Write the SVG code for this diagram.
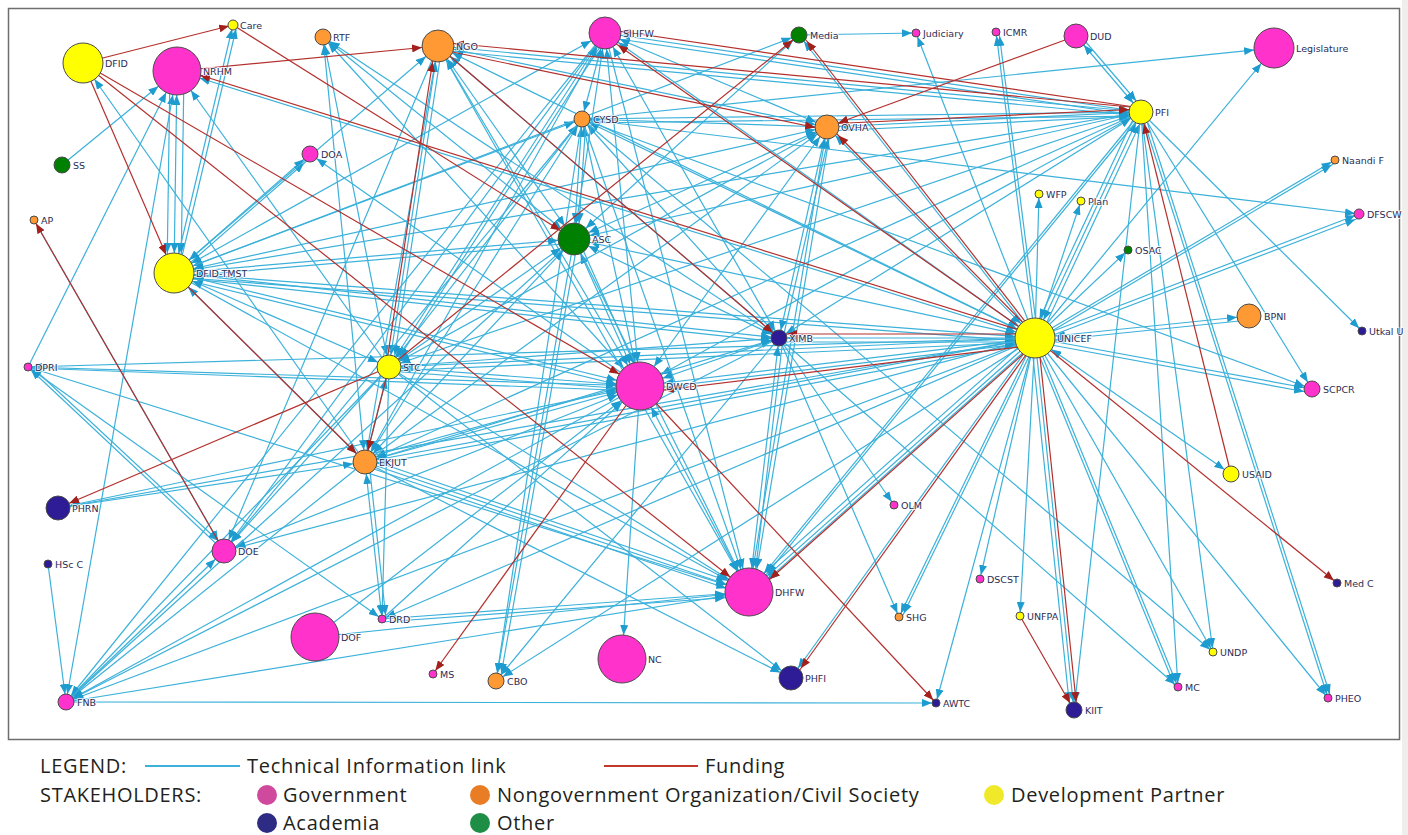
<svg xmlns="http://www.w3.org/2000/svg" width="1408" height="835" viewBox="0 0 1408 835">
<style>
.t line{stroke:#3cb1da;stroke-width:1.2;fill:none}
.f line{stroke:#b3302d;stroke-width:1.2;fill:none}
.ab{fill:#1e9ccf}
.ar{fill:#a3201c}
.n circle{stroke:#4a4a4a;stroke-width:1}
.n text{font-family:"DejaVu Sans",sans-serif;font-size:9.5px;fill:#2c2c54;stroke:#ffffff;stroke-width:2;stroke-opacity:0.8;paint-order:stroke;stroke-linejoin:round}
.Y{fill:#ffff00}.P{fill:#ff33cc}.O{fill:#ff9933}.G{fill:#008000}.N{fill:#2e1b96}
.lg{font-family:"Open Sans",sans-serif;font-size:20px;letter-spacing:0.7px;fill:#231f20}
</style>
<defs>
<marker id="b4" viewBox="0 0 10 8" markerWidth="10" markerHeight="8" refX="14" refY="4" orient="auto-start-reverse" markerUnits="userSpaceOnUse"><path d="M0,0L10,4L0,8z" class="ab"/></marker>
<marker id="b8" viewBox="0 0 10 8" markerWidth="10" markerHeight="8" refX="18" refY="4" orient="auto-start-reverse" markerUnits="userSpaceOnUse"><path d="M0,0L10,4L0,8z" class="ab"/></marker>
<marker id="b12" viewBox="0 0 10 8" markerWidth="10" markerHeight="8" refX="22" refY="4" orient="auto-start-reverse" markerUnits="userSpaceOnUse"><path d="M0,0L10,4L0,8z" class="ab"/></marker>
<marker id="b16" viewBox="0 0 10 8" markerWidth="10" markerHeight="8" refX="26" refY="4" orient="auto-start-reverse" markerUnits="userSpaceOnUse"><path d="M0,0L10,4L0,8z" class="ab"/></marker>
<marker id="b20" viewBox="0 0 10 8" markerWidth="10" markerHeight="8" refX="30" refY="4" orient="auto-start-reverse" markerUnits="userSpaceOnUse"><path d="M0,0L10,4L0,8z" class="ab"/></marker>
<marker id="b24" viewBox="0 0 10 8" markerWidth="10" markerHeight="8" refX="34" refY="4" orient="auto-start-reverse" markerUnits="userSpaceOnUse"><path d="M0,0L10,4L0,8z" class="ab"/></marker>
<marker id="r4" viewBox="0 0 10 8" markerWidth="10" markerHeight="8" refX="14" refY="4" orient="auto" markerUnits="userSpaceOnUse"><path d="M0,0L10,4L0,8z" class="ar"/></marker>
<marker id="r8" viewBox="0 0 10 8" markerWidth="10" markerHeight="8" refX="18" refY="4" orient="auto" markerUnits="userSpaceOnUse"><path d="M0,0L10,4L0,8z" class="ar"/></marker>
<marker id="r12" viewBox="0 0 10 8" markerWidth="10" markerHeight="8" refX="22" refY="4" orient="auto" markerUnits="userSpaceOnUse"><path d="M0,0L10,4L0,8z" class="ar"/></marker>
<marker id="r16" viewBox="0 0 10 8" markerWidth="10" markerHeight="8" refX="26" refY="4" orient="auto" markerUnits="userSpaceOnUse"><path d="M0,0L10,4L0,8z" class="ar"/></marker>
<marker id="r20" viewBox="0 0 10 8" markerWidth="10" markerHeight="8" refX="30" refY="4" orient="auto" markerUnits="userSpaceOnUse"><path d="M0,0L10,4L0,8z" class="ar"/></marker>
<marker id="r24" viewBox="0 0 10 8" markerWidth="10" markerHeight="8" refX="34" refY="4" orient="auto" markerUnits="userSpaceOnUse"><path d="M0,0L10,4L0,8z" class="ar"/></marker>
</defs>
<rect x="0" y="0" width="1408" height="835" fill="#ffffff"/>
<rect x="1402" y="0" width="6" height="835" fill="#efeeea"/>
<rect x="8.5" y="8.5" width="1391" height="731" fill="#ffffff" stroke="#6e6e6e" stroke-width="1.5"/>
<g id="connectors">
<g class="t">
<line x1="1035" y1="338" x2="1274" y2="48" marker-end="url(#b20)"/>
<line x1="1035" y1="338" x2="916" y2="33" marker-end="url(#b4)"/>
<line x1="1035" y1="338" x2="996" y2="32" marker-end="url(#b4)"/>
<line x1="1038" y1="338" x2="999" y2="32" marker-end="url(#b4)"/>
<line x1="1035" y1="338" x2="1039" y2="194" marker-end="url(#b4)"/>
<line x1="1035" y1="338" x2="1081" y2="201" marker-end="url(#b4)"/>
<line x1="1035" y1="338" x2="1128" y2="250" marker-end="url(#b4)"/>
<line x1="1035" y1="338" x2="1141" y2="112" marker-end="url(#b12)" marker-start="url(#b20)"/>
<line x1="1039" y1="339" x2="1145" y2="113" marker-end="url(#b12)"/>
<line x1="1137" y1="111" x2="1031" y2="337" marker-end="url(#b20)"/>
<line x1="1035" y1="338" x2="1335" y2="160" marker-end="url(#b4)"/>
<line x1="1035" y1="341" x2="1335" y2="163" marker-end="url(#b4)"/>
<line x1="1035" y1="338" x2="1359" y2="214" marker-end="url(#b4)"/>
<line x1="1035" y1="342" x2="1359" y2="218" marker-end="url(#b4)"/>
<line x1="1035" y1="338" x2="1249" y2="316" marker-end="url(#b12)" marker-start="url(#b20)"/>
<line x1="1249" y1="320" x2="1035" y2="342" marker-end="url(#b20)"/>
<line x1="1035" y1="338" x2="1312" y2="389" marker-end="url(#b8)"/>
<line x1="1035" y1="342" x2="1312" y2="393" marker-end="url(#b8)"/>
<line x1="1035" y1="338" x2="1231" y2="474" marker-end="url(#b8)" marker-start="url(#b20)"/>
<line x1="1035" y1="338" x2="1074" y2="710" marker-end="url(#b8)"/>
<line x1="1031" y1="338" x2="1070" y2="710" marker-end="url(#b8)"/>
<line x1="1035" y1="338" x2="1178" y2="687" marker-end="url(#b4)"/>
<line x1="1032" y1="338" x2="1175" y2="687" marker-end="url(#b4)"/>
<line x1="1035" y1="338" x2="1328" y2="698" marker-end="url(#b4)"/>
<line x1="1035" y1="338" x2="1213" y2="652" marker-end="url(#b4)"/>
<line x1="1035" y1="338" x2="1020" y2="616" marker-end="url(#b4)"/>
<line x1="1035" y1="338" x2="980" y2="579" marker-end="url(#b4)"/>
<line x1="1035" y1="338" x2="899" y2="617" marker-end="url(#b4)"/>
<line x1="1038" y1="338" x2="902" y2="617" marker-end="url(#b4)"/>
<line x1="1035" y1="338" x2="936" y2="703" marker-end="url(#b4)"/>
<line x1="1035" y1="338" x2="791" y2="678" marker-end="url(#b12)"/>
<line x1="1035" y1="338" x2="749" y2="592" marker-end="url(#b24)"/>
<line x1="1035" y1="342" x2="749" y2="596" marker-end="url(#b24)"/>
<line x1="1032" y1="335" x2="746" y2="589" marker-end="url(#b24)"/>
<line x1="1035" y1="338" x2="496" y2="681" marker-end="url(#b8)"/>
<line x1="1035" y1="338" x2="224" y2="551" marker-end="url(#b12)"/>
<line x1="1035" y1="338" x2="66" y2="702" marker-end="url(#b8)"/>
<line x1="1035" y1="338" x2="365" y2="462" marker-end="url(#b12)"/>
<line x1="1035" y1="342" x2="365" y2="466" marker-end="url(#b12)"/>
<line x1="1035" y1="338" x2="382" y2="619" marker-end="url(#b4)"/>
<line x1="1035" y1="338" x2="640" y2="386" marker-end="url(#b24)" marker-start="url(#b20)"/>
<line x1="640" y1="390" x2="1035" y2="342" marker-end="url(#b20)"/>
<line x1="1035" y1="338" x2="779" y2="338" marker-end="url(#b8)" marker-start="url(#b20)"/>
<line x1="779" y1="342" x2="1035" y2="342" marker-end="url(#b20)"/>
<line x1="1035" y1="338" x2="389" y2="367" marker-end="url(#b12)" marker-start="url(#b20)"/>
<line x1="389" y1="371" x2="1035" y2="342" marker-end="url(#b20)"/>
<line x1="1035" y1="338" x2="174" y2="273" marker-end="url(#b20)" marker-start="url(#b20)"/>
<line x1="174" y1="277" x2="1035" y2="342" marker-end="url(#b20)"/>
<line x1="1035" y1="338" x2="574" y2="239" marker-end="url(#b16)" marker-start="url(#b20)"/>
<line x1="1035" y1="338" x2="582" y2="119" marker-end="url(#b8)" marker-start="url(#b20)"/>
<line x1="1035" y1="338" x2="827" y2="127" marker-end="url(#b12)" marker-start="url(#b20)"/>
<line x1="1035" y1="338" x2="605" y2="33" marker-end="url(#b16)" marker-start="url(#b20)"/>
<line x1="1035" y1="338" x2="438" y2="46" marker-end="url(#b16)" marker-start="url(#b20)"/>
<line x1="1035" y1="338" x2="799" y2="35" marker-end="url(#b8)"/>
<line x1="1035" y1="338" x2="177" y2="71" marker-end="url(#b24)" marker-start="url(#b20)"/>
<line x1="1035" y1="338" x2="28" y2="367" marker-end="url(#b4)"/>
<line x1="1035" y1="338" x2="58" y2="508" marker-end="url(#b12)"/>
<line x1="1141" y1="112" x2="1076" y2="36" marker-end="url(#b12)" marker-start="url(#b12)"/>
<line x1="1079" y1="34" x2="1144" y2="110" marker-end="url(#b12)"/>
<line x1="1141" y1="112" x2="438" y2="46" marker-end="url(#b16)" marker-start="url(#b12)"/>
<line x1="438" y1="50" x2="1141" y2="116" marker-end="url(#b12)"/>
<line x1="1141" y1="112" x2="605" y2="33" marker-end="url(#b16)" marker-start="url(#b12)"/>
<line x1="605" y1="37" x2="1141" y2="116" marker-end="url(#b12)"/>
<line x1="1141" y1="112" x2="582" y2="119" marker-end="url(#b8)" marker-start="url(#b12)"/>
<line x1="582" y1="123" x2="1141" y2="116" marker-end="url(#b12)"/>
<line x1="1141" y1="112" x2="827" y2="127" marker-end="url(#b12)" marker-start="url(#b12)"/>
<line x1="827" y1="131" x2="1141" y2="116" marker-end="url(#b12)"/>
<line x1="1141" y1="112" x2="574" y2="239" marker-end="url(#b16)" marker-start="url(#b12)"/>
<line x1="1141" y1="112" x2="174" y2="273" marker-end="url(#b20)" marker-start="url(#b12)"/>
<line x1="1141" y1="112" x2="389" y2="367" marker-end="url(#b12)" marker-start="url(#b12)"/>
<line x1="1141" y1="112" x2="779" y2="338" marker-end="url(#b8)" marker-start="url(#b12)"/>
<line x1="1141" y1="112" x2="640" y2="386" marker-end="url(#b24)" marker-start="url(#b12)"/>
<line x1="1141" y1="112" x2="749" y2="592" marker-end="url(#b24)"/>
<line x1="1144" y1="112" x2="752" y2="592" marker-end="url(#b24)"/>
<line x1="1141" y1="112" x2="365" y2="462" marker-end="url(#b12)"/>
<line x1="1141" y1="112" x2="1074" y2="710" marker-end="url(#b8)"/>
<line x1="1141" y1="112" x2="1178" y2="687" marker-end="url(#b4)"/>
<line x1="1141" y1="112" x2="1328" y2="698" marker-end="url(#b4)"/>
<line x1="1144" y1="112" x2="1331" y2="698" marker-end="url(#b4)"/>
<line x1="1141" y1="112" x2="1213" y2="652" marker-end="url(#b4)"/>
<line x1="1141" y1="112" x2="1362" y2="331" marker-end="url(#b4)"/>
<line x1="1141" y1="112" x2="1312" y2="389" marker-end="url(#b8)"/>
<line x1="640" y1="386" x2="622" y2="659" marker-end="url(#b24)"/>
<line x1="640" y1="386" x2="749" y2="592" marker-end="url(#b24)" marker-start="url(#b24)"/>
<line x1="640" y1="386" x2="389" y2="367" marker-end="url(#b12)" marker-start="url(#b24)"/>
<line x1="389" y1="371" x2="640" y2="390" marker-end="url(#b24)"/>
<line x1="28" y1="367" x2="640" y2="386" marker-end="url(#b24)"/>
<line x1="30" y1="368" x2="640" y2="391" marker-end="url(#b24)"/>
<line x1="640" y1="386" x2="365" y2="462" marker-end="url(#b12)" marker-start="url(#b24)"/>
<line x1="365" y1="458" x2="640" y2="382" marker-end="url(#b24)"/>
<line x1="640" y1="386" x2="224" y2="551" marker-end="url(#b12)" marker-start="url(#b24)"/>
<line x1="640" y1="386" x2="66" y2="702" marker-end="url(#b8)"/>
<line x1="640" y1="386" x2="58" y2="508" marker-end="url(#b12)" marker-start="url(#b24)"/>
<line x1="640" y1="386" x2="574" y2="239" marker-end="url(#b16)" marker-start="url(#b24)"/>
<line x1="578" y1="239" x2="644" y2="386" marker-end="url(#b24)"/>
<line x1="640" y1="386" x2="582" y2="119" marker-end="url(#b8)" marker-start="url(#b24)"/>
<line x1="640" y1="386" x2="605" y2="33" marker-end="url(#b16)" marker-start="url(#b24)"/>
<line x1="640" y1="386" x2="827" y2="127" marker-end="url(#b12)" marker-start="url(#b24)"/>
<line x1="640" y1="386" x2="779" y2="338" marker-end="url(#b8)" marker-start="url(#b24)"/>
<line x1="640" y1="386" x2="174" y2="273" marker-end="url(#b20)" marker-start="url(#b24)"/>
<line x1="174" y1="277" x2="640" y2="390" marker-end="url(#b24)"/>
<line x1="640" y1="386" x2="438" y2="46" marker-end="url(#b16)" marker-start="url(#b24)"/>
<line x1="640" y1="386" x2="323" y2="37" marker-end="url(#b8)" marker-start="url(#b24)"/>
<line x1="640" y1="386" x2="310" y2="154" marker-end="url(#b8)"/>
<line x1="382" y1="619" x2="640" y2="386" marker-end="url(#b24)"/>
<line x1="315" y1="637" x2="640" y2="386" marker-end="url(#b24)"/>
<line x1="365" y1="462" x2="749" y2="592" marker-end="url(#b24)"/>
<line x1="365" y1="466" x2="749" y2="596" marker-end="url(#b24)"/>
<line x1="365" y1="458" x2="749" y2="588" marker-end="url(#b24)"/>
<line x1="389" y1="367" x2="749" y2="592" marker-end="url(#b24)"/>
<line x1="382" y1="619" x2="749" y2="592" marker-end="url(#b24)"/>
<line x1="382" y1="622" x2="749" y2="596" marker-end="url(#b24)"/>
<line x1="66" y1="702" x2="749" y2="592" marker-end="url(#b24)"/>
<line x1="315" y1="637" x2="749" y2="592" marker-end="url(#b24)"/>
<line x1="28" y1="367" x2="749" y2="592" marker-end="url(#b24)"/>
<line x1="779" y1="338" x2="749" y2="592" marker-end="url(#b24)" marker-start="url(#b8)"/>
<line x1="783" y1="338" x2="753" y2="592" marker-end="url(#b24)"/>
<line x1="582" y1="119" x2="749" y2="592" marker-end="url(#b24)"/>
<line x1="574" y1="239" x2="749" y2="592" marker-end="url(#b24)"/>
<line x1="605" y1="33" x2="749" y2="592" marker-end="url(#b24)"/>
<line x1="438" y1="46" x2="749" y2="592" marker-end="url(#b24)"/>
<line x1="174" y1="273" x2="749" y2="592" marker-end="url(#b24)"/>
<line x1="827" y1="127" x2="749" y2="592" marker-end="url(#b24)" marker-start="url(#b12)"/>
<line x1="831" y1="127" x2="753" y2="592" marker-end="url(#b24)"/>
<line x1="779" y1="338" x2="827" y2="127" marker-end="url(#b12)" marker-start="url(#b8)"/>
<line x1="783" y1="338" x2="831" y2="127" marker-end="url(#b12)"/>
<line x1="779" y1="338" x2="894" y2="505" marker-end="url(#b4)"/>
<line x1="779" y1="338" x2="899" y2="617" marker-end="url(#b4)"/>
<line x1="779" y1="338" x2="1178" y2="687" marker-end="url(#b4)"/>
<line x1="779" y1="338" x2="174" y2="273" marker-end="url(#b20)" marker-start="url(#b8)"/>
<line x1="174" y1="277" x2="779" y2="342" marker-end="url(#b8)"/>
<line x1="779" y1="338" x2="389" y2="367" marker-end="url(#b12)" marker-start="url(#b8)"/>
<line x1="779" y1="338" x2="582" y2="119" marker-end="url(#b8)" marker-start="url(#b8)"/>
<line x1="779" y1="338" x2="605" y2="33" marker-end="url(#b16)" marker-start="url(#b8)"/>
<line x1="779" y1="338" x2="365" y2="462" marker-end="url(#b12)" marker-start="url(#b8)"/>
<line x1="779" y1="338" x2="574" y2="239" marker-end="url(#b16)" marker-start="url(#b8)"/>
<line x1="779" y1="338" x2="438" y2="46" marker-end="url(#b16)" marker-start="url(#b8)"/>
<line x1="779" y1="338" x2="66" y2="702" marker-end="url(#b8)"/>
<line x1="779" y1="338" x2="496" y2="681" marker-end="url(#b8)"/>
<line x1="779" y1="338" x2="323" y2="37" marker-end="url(#b8)" marker-start="url(#b8)"/>
<line x1="389" y1="367" x2="438" y2="46" marker-end="url(#b16)" marker-start="url(#b12)"/>
<line x1="442" y1="46" x2="393" y2="367" marker-end="url(#b12)"/>
<line x1="389" y1="367" x2="323" y2="37" marker-end="url(#b8)" marker-start="url(#b12)"/>
<line x1="389" y1="367" x2="605" y2="33" marker-end="url(#b16)" marker-start="url(#b12)"/>
<line x1="609" y1="33" x2="393" y2="367" marker-end="url(#b12)"/>
<line x1="389" y1="367" x2="582" y2="119" marker-end="url(#b8)" marker-start="url(#b12)"/>
<line x1="389" y1="367" x2="574" y2="239" marker-end="url(#b16)" marker-start="url(#b12)"/>
<line x1="389" y1="367" x2="827" y2="127" marker-end="url(#b12)" marker-start="url(#b12)"/>
<line x1="389" y1="367" x2="365" y2="462" marker-end="url(#b12)" marker-start="url(#b12)"/>
<line x1="389" y1="367" x2="224" y2="551" marker-end="url(#b12)"/>
<line x1="389" y1="367" x2="66" y2="702" marker-end="url(#b8)"/>
<line x1="389" y1="367" x2="382" y2="619" marker-end="url(#b4)"/>
<line x1="389" y1="367" x2="174" y2="273" marker-end="url(#b20)" marker-start="url(#b12)"/>
<line x1="389" y1="367" x2="177" y2="71" marker-end="url(#b24)"/>
<line x1="389" y1="367" x2="791" y2="678" marker-end="url(#b12)"/>
<line x1="174" y1="273" x2="177" y2="71" marker-end="url(#b24)" marker-start="url(#b20)"/>
<line x1="184" y1="71" x2="181" y2="273" marker-end="url(#b20)"/>
<line x1="170" y1="71" x2="167" y2="273" marker-end="url(#b20)"/>
<line x1="174" y1="273" x2="233" y2="25" marker-end="url(#b4)" marker-start="url(#b20)"/>
<line x1="178" y1="273" x2="237" y2="25" marker-end="url(#b4)"/>
<line x1="174" y1="273" x2="310" y2="154" marker-end="url(#b8)"/>
<line x1="174" y1="277" x2="310" y2="158" marker-end="url(#b8)"/>
<line x1="174" y1="273" x2="574" y2="239" marker-end="url(#b16)" marker-start="url(#b20)"/>
<line x1="574" y1="243" x2="174" y2="277" marker-end="url(#b20)"/>
<line x1="174" y1="273" x2="582" y2="119" marker-end="url(#b8)" marker-start="url(#b20)"/>
<line x1="174" y1="273" x2="605" y2="33" marker-end="url(#b16)" marker-start="url(#b20)"/>
<line x1="174" y1="273" x2="827" y2="127" marker-end="url(#b12)" marker-start="url(#b20)"/>
<line x1="174" y1="273" x2="365" y2="462" marker-end="url(#b12)" marker-start="url(#b20)"/>
<line x1="174" y1="273" x2="799" y2="35" marker-end="url(#b8)"/>
<line x1="174" y1="273" x2="438" y2="46" marker-end="url(#b16)" marker-start="url(#b20)"/>
<line x1="62" y1="165" x2="177" y2="71" marker-end="url(#b24)"/>
<line x1="28" y1="367" x2="177" y2="71" marker-end="url(#b24)"/>
<line x1="66" y1="702" x2="177" y2="71" marker-end="url(#b24)" marker-start="url(#b8)"/>
<line x1="365" y1="462" x2="83" y2="63" marker-end="url(#b20)"/>
<line x1="438" y1="46" x2="365" y2="462" marker-end="url(#b12)" marker-start="url(#b16)"/>
<line x1="438" y1="46" x2="224" y2="551" marker-end="url(#b12)"/>
<line x1="438" y1="46" x2="827" y2="127" marker-end="url(#b12)" marker-start="url(#b16)"/>
<line x1="438" y1="46" x2="574" y2="239" marker-end="url(#b16)" marker-start="url(#b16)"/>
<line x1="605" y1="33" x2="582" y2="119" marker-end="url(#b8)" marker-start="url(#b16)"/>
<line x1="605" y1="33" x2="574" y2="239" marker-end="url(#b16)" marker-start="url(#b16)"/>
<line x1="605" y1="33" x2="827" y2="127" marker-end="url(#b12)" marker-start="url(#b16)"/>
<line x1="605" y1="33" x2="224" y2="551" marker-end="url(#b12)"/>
<line x1="605" y1="33" x2="66" y2="702" marker-end="url(#b8)"/>
<line x1="605" y1="33" x2="365" y2="462" marker-end="url(#b12)" marker-start="url(#b16)"/>
<line x1="582" y1="119" x2="574" y2="239" marker-end="url(#b16)" marker-start="url(#b8)"/>
<line x1="586" y1="119" x2="578" y2="239" marker-end="url(#b16)"/>
<line x1="582" y1="119" x2="365" y2="462" marker-end="url(#b12)" marker-start="url(#b8)"/>
<line x1="582" y1="119" x2="224" y2="551" marker-end="url(#b12)"/>
<line x1="582" y1="119" x2="496" y2="681" marker-end="url(#b8)"/>
<line x1="582" y1="119" x2="1274" y2="48" marker-end="url(#b20)"/>
<line x1="582" y1="119" x2="1312" y2="389" marker-end="url(#b8)"/>
<line x1="582" y1="119" x2="1359" y2="214" marker-end="url(#b4)"/>
<line x1="582" y1="119" x2="827" y2="127" marker-end="url(#b12)" marker-start="url(#b8)"/>
<line x1="582" y1="119" x2="1213" y2="652" marker-end="url(#b4)"/>
<line x1="574" y1="239" x2="496" y2="681" marker-end="url(#b8)"/>
<line x1="578" y1="239" x2="500" y2="681" marker-end="url(#b8)"/>
<line x1="574" y1="239" x2="365" y2="462" marker-end="url(#b12)" marker-start="url(#b16)"/>
<line x1="574" y1="239" x2="66" y2="702" marker-end="url(#b8)"/>
<line x1="574" y1="239" x2="799" y2="35" marker-end="url(#b8)" marker-start="url(#b16)"/>
<line x1="574" y1="239" x2="827" y2="127" marker-end="url(#b12)" marker-start="url(#b16)"/>
<line x1="365" y1="462" x2="827" y2="127" marker-end="url(#b12)"/>
<line x1="365" y1="462" x2="382" y2="619" marker-end="url(#b4)" marker-start="url(#b12)"/>
<line x1="369" y1="462" x2="386" y2="619" marker-end="url(#b4)"/>
<line x1="365" y1="462" x2="58" y2="508" marker-end="url(#b12)" marker-start="url(#b12)"/>
<line x1="365" y1="462" x2="791" y2="678" marker-end="url(#b12)"/>
<line x1="365" y1="462" x2="66" y2="702" marker-end="url(#b8)"/>
<line x1="323" y1="37" x2="365" y2="462" marker-end="url(#b12)" marker-start="url(#b8)"/>
<line x1="323" y1="37" x2="574" y2="239" marker-end="url(#b16)" marker-start="url(#b8)"/>
<line x1="224" y1="551" x2="28" y2="367" marker-end="url(#b4)"/>
<line x1="31" y1="366" x2="227" y2="549" marker-end="url(#b12)"/>
<line x1="66" y1="702" x2="224" y2="551" marker-end="url(#b12)"/>
<line x1="28" y1="367" x2="382" y2="619" marker-end="url(#b4)" marker-start="url(#b4)"/>
<line x1="34" y1="220" x2="224" y2="551" marker-end="url(#b12)"/>
<line x1="48" y1="564" x2="66" y2="702" marker-end="url(#b8)"/>
<line x1="66" y1="702" x2="936" y2="703" marker-end="url(#b4)"/>
<line x1="799" y1="35" x2="916" y2="33" marker-end="url(#b4)"/>
</g>
<g class="f">
<line x1="83" y1="63" x2="233" y2="25" marker-end="url(#r4)"/>
<line x1="83" y1="63" x2="174" y2="273" marker-end="url(#r20)"/>
<line x1="83" y1="63" x2="640" y2="386" marker-end="url(#r24)"/>
<line x1="83" y1="63" x2="749" y2="592" marker-end="url(#r24)"/>
<line x1="177" y1="71" x2="438" y2="46" marker-end="url(#r16)"/>
<line x1="1035" y1="335" x2="177" y2="68" marker-end="url(#r24)"/>
<line x1="233" y1="25" x2="574" y2="239" marker-end="url(#r16)"/>
<line x1="174" y1="273" x2="365" y2="462" marker-end="url(#r12)"/>
<line x1="389" y1="367" x2="365" y2="462" marker-end="url(#r12)"/>
<line x1="386" y1="367" x2="435" y2="46" marker-end="url(#r16)"/>
<line x1="389" y1="367" x2="58" y2="508" marker-end="url(#r12)"/>
<line x1="389" y1="367" x2="799" y2="35" marker-end="url(#r8)"/>
<line x1="1141" y1="108" x2="438" y2="42" marker-end="url(#r16)"/>
<line x1="1141" y1="108" x2="605" y2="29" marker-end="url(#r16)"/>
<line x1="438" y1="49" x2="827" y2="130" marker-end="url(#r12)"/>
<line x1="1076" y1="36" x2="827" y2="127" marker-end="url(#r12)"/>
<line x1="1038" y1="338" x2="830" y2="127" marker-end="url(#r12)"/>
<line x1="1038" y1="338" x2="802" y2="35" marker-end="url(#r8)"/>
<line x1="1035" y1="334" x2="779" y2="334" marker-end="url(#r8)"/>
<line x1="1035" y1="345" x2="640" y2="393" marker-end="url(#r24)"/>
<line x1="1038" y1="338" x2="794" y2="678" marker-end="url(#r12)"/>
<line x1="1038" y1="338" x2="1077" y2="710" marker-end="url(#r8)"/>
<line x1="1020" y1="616" x2="1074" y2="710" marker-end="url(#r8)"/>
<line x1="1231" y1="474" x2="1141" y2="112" marker-end="url(#r12)"/>
<line x1="1035" y1="338" x2="1337" y2="583" marker-end="url(#r4)"/>
<line x1="640" y1="386" x2="433" y2="674" marker-end="url(#r4)"/>
<line x1="640" y1="386" x2="936" y2="703" marker-end="url(#r4)"/>
<line x1="224" y1="551" x2="34" y2="220" marker-end="url(#r4)"/>
<line x1="438" y1="46" x2="779" y2="338" marker-end="url(#r8)"/>
<line x1="1035" y1="338" x2="605" y2="36" marker-end="url(#r16)"/>
<line x1="827" y1="124" x2="1141" y2="109" marker-end="url(#r12)"/>
<line x1="1038" y1="341" x2="752" y2="595" marker-end="url(#r24)"/>
</g>
</g>
<g class="n">
<g id="DFID"><circle cx="83" cy="63" r="20" class="Y"/><text x="105" y="67">DFID</text></g>
<g id="NRHM"><circle cx="177" cy="71" r="24" class="P"/><text x="203" y="75">NRHM</text></g>
<g id="Care"><circle cx="233" cy="25" r="5" class="Y"/><text x="240" y="29">Care</text></g>
<g id="RTF"><circle cx="323" cy="37" r="8" class="O"/><text x="333" y="41">RTF</text></g>
<g id="NGO"><circle cx="438" cy="46" r="16" class="O"/><text x="456" y="50">NGO</text></g>
<g id="SIHFW"><circle cx="605" cy="33" r="16" class="P"/><text x="623" y="37">SIHFW</text></g>
<g id="Media"><circle cx="799" cy="35" r="8" class="G"/><text x="810" y="39">Media</text></g>
<g id="Judiciary"><circle cx="916" cy="33" r="4" class="P"/><text x="923" y="37">Judiciary</text></g>
<g id="ICMR"><circle cx="996" cy="32" r="4" class="P"/><text x="1003" y="36">ICMR</text></g>
<g id="DUD"><circle cx="1076" cy="36" r="12" class="P"/><text x="1090" y="40">DUD</text></g>
<g id="Legislature"><circle cx="1274" cy="48" r="20" class="P"/><text x="1296" y="52">Legislature</text></g>
<g id="PFI"><circle cx="1141" cy="112" r="12" class="Y"/><text x="1155" y="116">PFI</text></g>
<g id="CYSD"><circle cx="582" cy="119" r="8" class="O"/><text x="593" y="123">CYSD</text></g>
<g id="OVHA"><circle cx="827" cy="127" r="12" class="O"/><text x="841" y="131">OVHA</text></g>
<g id="SS"><circle cx="62" cy="165" r="8" class="G"/><text x="73" y="169">SS</text></g>
<g id="DOA"><circle cx="310" cy="154" r="8" class="P"/><text x="321" y="158">DOA</text></g>
<g id="AP"><circle cx="34" cy="220" r="4" class="O"/><text x="41" y="224">AP</text></g>
<g id="NaandiF"><circle cx="1335" cy="160" r="4" class="O"/><text x="1342" y="164">Naandi F</text></g>
<g id="WFP"><circle cx="1039" cy="194" r="4" class="Y"/><text x="1046" y="198">WFP</text></g>
<g id="Plan"><circle cx="1081" cy="201" r="4" class="Y"/><text x="1088" y="205">Plan</text></g>
<g id="DFSCW"><circle cx="1359" cy="214" r="5" class="P"/><text x="1367" y="218">DFSCW</text></g>
<g id="ASC"><circle cx="574" cy="239" r="16" class="G"/><text x="592" y="243">ASC</text></g>
<g id="OSAC"><circle cx="1128" cy="250" r="4" class="G"/><text x="1135" y="254">OSAC</text></g>
<g id="DFID-TMST"><circle cx="174" cy="273" r="20" class="Y"/><text x="196" y="277">DFID-TMST</text></g>
<g id="BPNI"><circle cx="1249" cy="316" r="12" class="O"/><text x="1264" y="320">BPNI</text></g>
<g id="UtkalU"><circle cx="1362" cy="331" r="4" class="N"/><text x="1369" y="335">Utkal U</text></g>
<g id="UNICEF"><circle cx="1035" cy="338" r="20" class="Y"/><text x="1057" y="342">UNICEF</text></g>
<g id="XIMB"><circle cx="779" cy="338" r="8" class="N"/><text x="789" y="342">XIMB</text></g>
<g id="STC"><circle cx="389" cy="367" r="12" class="Y"/><text x="403" y="371">STC</text></g>
<g id="DPRI"><circle cx="28" cy="367" r="4" class="P"/><text x="35" y="371">DPRI</text></g>
<g id="DWCD"><circle cx="640" cy="386" r="24" class="P"/><text x="666" y="390">DWCD</text></g>
<g id="SCPCR"><circle cx="1312" cy="389" r="8" class="P"/><text x="1323" y="393">SCPCR</text></g>
<g id="EKJUT"><circle cx="365" cy="462" r="12" class="O"/><text x="379" y="466">EKJUT</text></g>
<g id="USAID"><circle cx="1231" cy="474" r="8" class="Y"/><text x="1242" y="478">USAID</text></g>
<g id="PHRN"><circle cx="58" cy="508" r="12" class="N"/><text x="72" y="512">PHRN</text></g>
<g id="OLM"><circle cx="894" cy="505" r="4" class="P"/><text x="901" y="509">OLM</text></g>
<g id="DOE"><circle cx="224" cy="551" r="12" class="P"/><text x="238" y="555">DOE</text></g>
<g id="HScC"><circle cx="48" cy="564" r="4" class="N"/><text x="55" y="568">HSc C</text></g>
<g id="DHFW"><circle cx="749" cy="592" r="24" class="P"/><text x="775" y="596">DHFW</text></g>
<g id="DSCST"><circle cx="980" cy="579" r="4" class="P"/><text x="987" y="583">DSCST</text></g>
<g id="MedC"><circle cx="1337" cy="583" r="4" class="N"/><text x="1344" y="587">Med C</text></g>
<g id="DRD"><circle cx="382" cy="619" r="4" class="P"/><text x="389" y="623">DRD</text></g>
<g id="SHG"><circle cx="899" cy="617" r="4" class="O"/><text x="906" y="621">SHG</text></g>
<g id="UNFPA"><circle cx="1020" cy="616" r="4" class="Y"/><text x="1027" y="620">UNFPA</text></g>
<g id="DOF"><circle cx="315" cy="637" r="24" class="P"/><text x="341" y="641">DOF</text></g>
<g id="NC"><circle cx="622" cy="659" r="24" class="P"/><text x="648" y="663">NC</text></g>
<g id="UNDP"><circle cx="1213" cy="652" r="4" class="Y"/><text x="1220" y="656">UNDP</text></g>
<g id="MS"><circle cx="433" cy="674" r="4" class="P"/><text x="440" y="678">MS</text></g>
<g id="CBO"><circle cx="496" cy="681" r="8" class="O"/><text x="507" y="685">CBO</text></g>
<g id="PHFI"><circle cx="791" cy="678" r="12" class="N"/><text x="805" y="682">PHFI</text></g>
<g id="MC"><circle cx="1178" cy="687" r="4" class="P"/><text x="1185" y="691">MC</text></g>
<g id="PHEO"><circle cx="1328" cy="698" r="4" class="P"/><text x="1335" y="702">PHEO</text></g>
<g id="FNB"><circle cx="66" cy="702" r="8" class="P"/><text x="77" y="706">FNB</text></g>
<g id="AWTC"><circle cx="936" cy="703" r="4" class="N"/><text x="943" y="707">AWTC</text></g>
<g id="KIIT"><circle cx="1074" cy="710" r="8" class="N"/><text x="1085" y="714">KIIT</text></g>
</g>
<g id="legend">
<text x="40" y="773" class="lg">LEGEND:</text>
<line x1="145" y1="766" x2="240" y2="766" stroke="#3cb1da" stroke-width="2"/>
<text x="247" y="773" class="lg">Technical Information link</text>
<line x1="604" y1="766" x2="698" y2="766" stroke="#c0392b" stroke-width="2"/>
<text x="705" y="773" class="lg">Funding</text>
<text x="40" y="802" class="lg">STAKEHOLDERS:</text>
<circle cx="267" cy="795" r="10" fill="#cf4a9d"/>
<text x="283" y="802" class="lg">Government</text>
<circle cx="480" cy="795" r="10" fill="#e97d25"/>
<text x="497" y="802" class="lg">Nongovernment Organization/Civil Society</text>
<circle cx="994" cy="795" r="10" fill="#f0e92a"/>
<text x="1011" y="802" class="lg">Development Partner</text>
<circle cx="267" cy="823" r="10" fill="#2d2b83"/>
<text x="283" y="830" class="lg">Academia</text>
<circle cx="480" cy="823" r="10" fill="#1e8d45"/>
<text x="497" y="830" class="lg">Other</text>
</g>
</svg>
